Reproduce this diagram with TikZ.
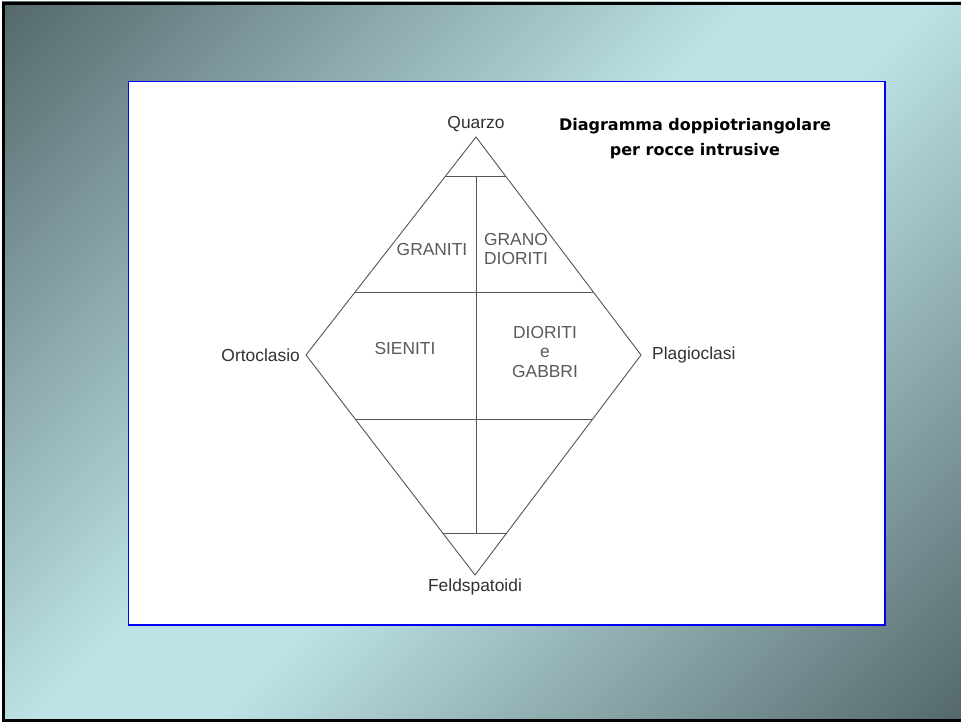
\documentclass[tikz,border=0pt]{standalone}
\usepackage{fontspec}
\setmainfont{Liberation Sans}
\newfontfamily\titlefont{DejaVu Sans}
\usetikzlibrary{calc,positioning}
\definecolor{slidedark}{RGB}{86,106,109}
\definecolor{slidelight}{RGB}{189,226,229}
\definecolor{edgegray}{RGB}{85,85,85}
\definecolor{vertexgray}{RGB}{50,50,50}
\definecolor{rockgray}{RGB}{90,90,90}
\pgfdeclareverticalshading{slidegrad}{100bp}{color(0bp)=(slidedark); color(15bp)=(slidedark); color(46bp)=(slidelight); color(54bp)=(slidelight); color(85bp)=(slidedark); color(100bp)=(slidedark)}
\tikzset{
  vertex/.style={font=\fontsize{17.4}{20}\selectfont, text=vertexgray, inner sep=0pt},
  rock/.style={font=\fontsize{17.4}{19.5}\selectfont, text=rockgray, align=center, inner sep=0pt},
  edge/.style={draw=edgegray, line width=0.9pt},
  titletext/.style={font=\titlefont\bfseries\fontsize{16}{25}\selectfont, align=center, inner sep=0pt}
}
\begin{document}
\begin{tikzpicture}[x=1pt,y=-1pt]
\useasboundingbox (0,0) rectangle (961,722);
\shade[shading=slidegrad, shading angle=45] (2,2) rectangle (961,722);
\draw[line width=2.5pt] (961,3.5) -- (3.5,3.5) -- (3.5,720.5) -- (961,720.5);
\draw[blue, fill=white, line width=1.2pt] (128.5,81.5) rectangle (885,625);

\coordinate (T) at (476,137);
\coordinate (L) at (306,355);
\coordinate (R) at (641,355);
\coordinate (B) at (475,575);
\coordinate (qa) at ($(T)!0.183!(L)$);
\coordinate (qb) at ($(T)!0.183!(R)$);
\coordinate (ga) at ($(T)!0.711!(L)$);
\coordinate (gb) at ($(T)!0.711!(R)$);
\coordinate (sa) at ($(L)!0.295!(B)$);
\coordinate (sb) at ($(R)!0.295!(B)$);
\coordinate (fa) at ($(L)!0.809!(B)$);
\coordinate (fb) at ($(R)!0.809!(B)$);

\draw[edge] (T) -- (R) -- (B) -- (L) -- cycle;
\draw[edge] (qa) -- (qb);
\draw[edge] (ga) -- (gb);
\draw[edge] (sa) -- (sb);
\draw[edge] (fa) -- (fb);
\draw[edge] (T |- qa) -- (T |- fa);

\node[vertex, above=5pt of T] (quarzo) {Quarzo};
\node[vertex, left=6pt of L] (ortoclasio) {Ortoclasio};
\node[vertex, right=11pt of R] (plagioclasi) {Plagioclasi};
\node[vertex, below=4pt of B] (feldspatoidi) {Feldspatoidi};

\node[rock] (graniti) at (432,250) {GRANITI};
\node[rock] (granodioriti) at (516,249) {GRANO\\DIORITI};
\node[rock] (sieniti) at (405,349) {SIENITI};
\node[rock] (dioriti) at (545,352) {DIORITI\\e\\GABBRI};

\node[titletext] (titolo) at (695,139) {Diagramma doppiotriangolare\\per rocce intrusive};
\end{tikzpicture}
\end{document}
